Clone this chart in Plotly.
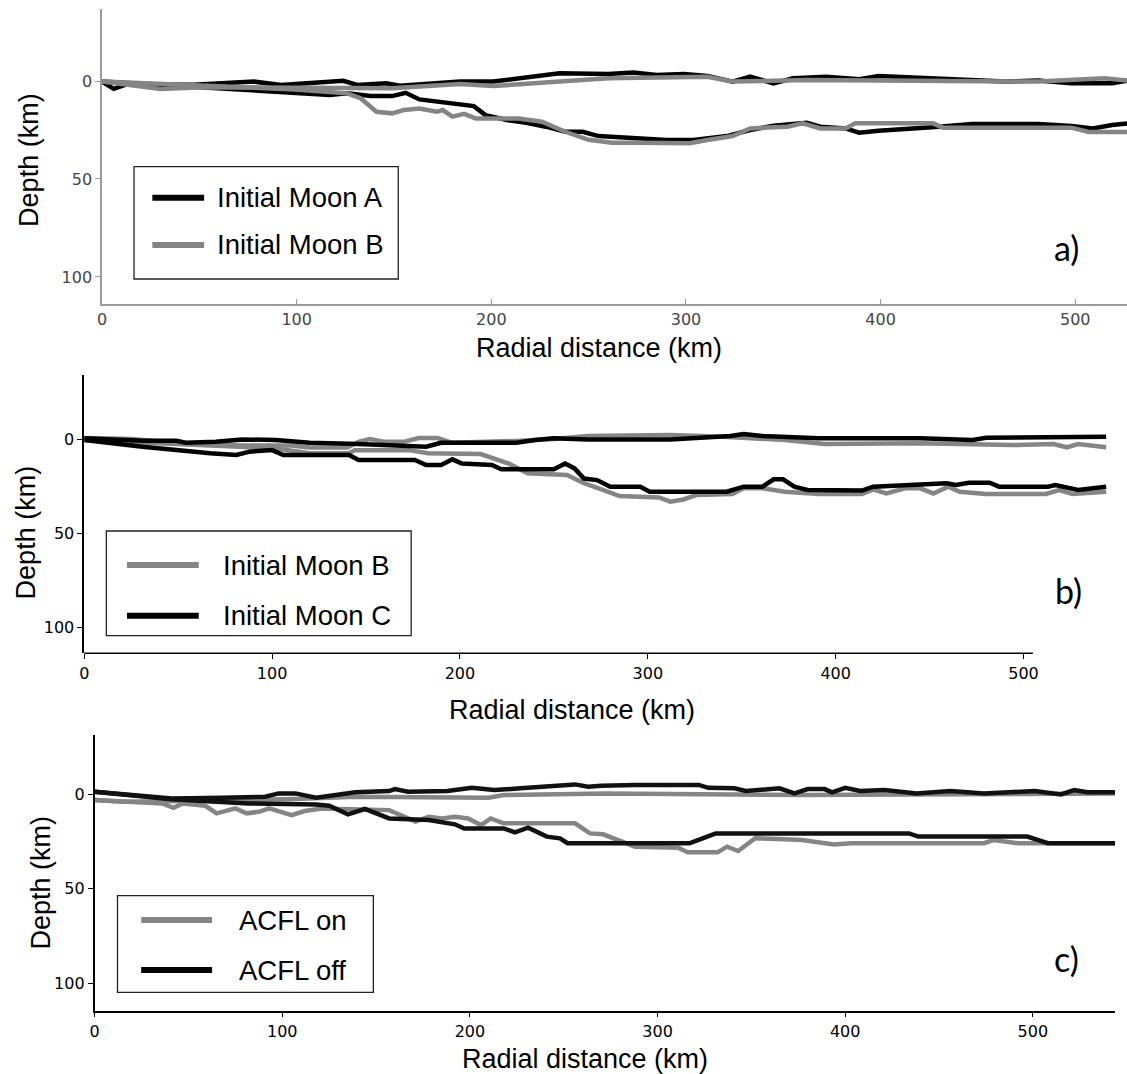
import plotly.graph_objects as go

W, H = 1127, 1074

# ---------------- data (depth in km vs radial distance in km) ----------------
# Panel a
a_moonA_upper_x = [0, 6, 13, 47, 78, 92, 124, 131, 146, 153, 184, 201, 235, 260, 273, 285, 299, 311, 324, 333, 345, 355, 372, 389, 399, 423, 447, 464, 481, 498, 519, 527]
a_moonA_upper_d = [0.3, 4, 1.6, 1.9, 0.3, 2, -0.1, 2, 1.2, 2.4, 0.3, 0.3, -3.9, -3.6, -4.3, -3.1, -3.6, -2.6, 0.3, -2.2, 1.2, -1.4, -2.2, -0.9, -2.6, -1.4, -0.2, 0.3, -0.2, 1.2, 1.2, -0.2]
a_moonA_lower_x = [0, 47, 96, 117, 126, 138, 149, 156, 163, 174, 180, 191, 197, 208, 218, 228, 238, 247, 255, 262, 270, 277, 290, 304, 321, 333, 345, 362, 369, 382, 389, 399, 413, 430, 447, 481, 498, 509, 519, 527]
a_moonA_lower_d = [0.3, 3, 5.6, 7.1, 6.3, 7.7, 7.7, 6, 9.4, 10.6, 11.8, 12.8, 17.4, 19.9, 21.3, 23.3, 25.9, 25.9, 28.1, 28.5, 28.8, 29.3, 30.1, 30.1, 28.1, 25, 22.8, 21.3, 23.3, 24.2, 26.4, 25.4, 24.2, 23.3, 22, 22, 23, 24.2, 22.5, 21.6]
a_moonB_upper_x = [0, 30, 52, 98, 149, 184, 201, 235, 260, 311, 324, 362, 430, 481, 515, 527]
a_moonB_upper_d = [0.3, 4.1, 3.2, 3.7, 3.7, 1.5, 2.6, 0.3, -1.4, -2.2, 0.3, -0.5, -0.2, 0.3, -1.4, -0.2]
a_moonB_lower_x = [0, 99, 126, 133, 141, 149, 155, 163, 172, 175, 180, 186, 192, 214, 226, 238, 250, 262, 273, 302, 311, 324, 333, 352, 360, 369, 382, 387, 427, 432, 498, 507, 527]
a_moonB_lower_d = [0.3, 4.3, 6.3, 8.9, 15.7, 16.5, 14.8, 14, 15.7, 14.8, 18.2, 16.8, 19.1, 19.1, 20.8, 25.9, 30, 31.5, 31.5, 31.8, 30.1, 28.1, 24.2, 23.3, 21.6, 24.2, 24.2, 21.6, 21.6, 23.8, 23.8, 26, 26]

# Panel b
b_moonB_upper_x = [0, 25, 50, 85, 110, 120, 140, 146, 152, 160, 170, 178, 188, 196, 230, 250, 268, 312, 340, 373, 394, 445, 494, 516, 523, 529, 544]
b_moonB_upper_d = [-0.5, 0, 2, 3.5, 3.5, 4.5, 4.5, 1.5, 0, 1.5, 1.5, -0.5, -0.5, 2, 1, 0, -1.6, -2.1, -1.2, 0.5, 2.7, 2.3, 3.2, 2.7, 4.4, 2.7, 4.4]
b_moonB_lower_x = [0, 49, 84, 102, 120, 141, 144, 173, 183, 211, 226, 236, 257, 266, 272, 278, 285, 306, 312, 319, 326, 345, 351, 361, 373, 391, 414, 420, 427, 437, 445, 452, 460, 466, 480, 512, 519, 526, 544]
b_moonB_lower_d = [0.5, 2.7, 4.1, 5, 7.6, 7.6, 5.9, 5.9, 7.6, 8, 13, 18.2, 19.1, 23.5, 25.5, 28, 30.3, 31, 33.3, 32.1, 29.7, 29.2, 26.2, 26.2, 28, 29.2, 29.2, 26.7, 28.9, 26.2, 26.2, 28.9, 25.3, 28, 29.2, 29.2, 27.1, 29.2, 28]
b_moonC_upper_x = [0, 31, 49, 54, 70, 84, 102, 120, 146, 160, 176, 182, 190, 230, 240, 250, 268, 312, 344, 351, 361, 391, 445, 473, 480, 544]
b_moonC_upper_d = [-0.4, 0.9, 0.9, 2, 1.4, 0.2, 0.5, 2, 2.7, 3.2, 4.1, 4.1, 2, 2, 0.5, -0.35, 0.2, 0.2, -1.6, -2.7, -1.6, -0.35, -0.35, 0.5, -0.7, -1.2]
b_moonC_lower_x = [0, 31, 67, 81, 88, 100, 106, 141, 146, 176, 182, 190, 196, 201, 217, 222, 250, 256, 261, 266, 273, 280, 296, 301, 342, 351, 361, 367, 372, 378, 385, 414, 420, 459, 464, 471, 482, 487, 513, 517, 529, 544]
b_moonC_lower_d = [0.5, 4.1, 7.6, 8.5, 6.7, 5.9, 8.5, 8.5, 11.1, 11.1, 13.8, 13.8, 10.8, 13, 13.8, 16.1, 16.1, 13, 15.6, 21, 21.8, 25.3, 25.3, 28, 28, 25.3, 25.3, 21.4, 21.4, 25.3, 27.1, 27.4, 25.3, 23.5, 24.4, 23.2, 23.2, 25.3, 25.3, 24.4, 27.1, 25.3]

# Panel c
c_on_upper_x = [0, 15, 50, 103, 139, 210, 218, 273, 377, 544]
c_on_upper_d = [3.2, 4.1, 3.7, 2.7, 1.4, 2, 0.5, -0.35, 0.5, -0.35]
c_on_lower_x = [0, 36, 42, 47, 59, 65, 75, 81, 88, 93, 105, 112, 121, 157, 171, 178, 185, 192, 199, 206, 211, 218, 256, 264, 271, 288, 311, 316, 332, 337, 343, 352, 364, 377, 394, 403, 474, 479, 492, 544]
c_on_lower_d = [3.2, 5, 7.3, 5, 6.2, 10.2, 7.6, 10.2, 9.3, 7.6, 11.1, 9, 7.6, 8.5, 14.6, 12, 12.9, 12, 12.9, 16.4, 12.9, 15.5, 15.5, 20.8, 21.3, 27.8, 28.4, 30.8, 30.8, 27.8, 30.1, 23.4, 23.8, 24.3, 26.6, 26, 26, 24.3, 26, 26]
c_off_upper_x = [0, 41, 68, 91, 98, 107, 118, 139, 157, 160, 167, 188, 201, 213, 227, 238, 256, 263, 270, 288, 322, 327, 341, 347, 365, 373, 380, 389, 393, 400, 408, 421, 438, 456, 474, 501, 515, 522, 529, 544]
c_off_upper_d = [-1.2, 2.3, 2, 1.4, -0.35, -0.35, 2, -0.9, -1.6, -2.6, -1.2, -1.6, -3.3, -2.1, -3, -3.9, -5.1, -3.9, -4.4, -4.8, -4.8, -3.3, -3, -1.6, -3, -0.35, -2.6, -2.6, -0.9, -3.3, -1.6, -2.1, -0.35, -1.6, -0.35, -1.6, 0.2, -2.1, -0.9, -0.9]
c_off_lower_x = [0, 41, 82, 118, 125, 135, 144, 157, 178, 192, 197, 218, 224, 231, 241, 248, 252, 317, 324, 331, 434, 439, 497, 508, 544]
c_off_lower_d = [-1.2, 2.7, 5, 5.5, 6.2, 10.7, 7.9, 12.9, 13.7, 16, 18.2, 18.2, 20.2, 17.8, 22.5, 23.4, 26, 26, 23.4, 20.8, 20.8, 22.5, 22.5, 26, 26]

x_ticks = [0, 100, 200, 300, 400, 500]
y_ticks = [0, 50, 100]

legend_a = ["Initial Moon A", "Initial Moon B"]
legend_b = ["Initial Moon B", "Initial Moon C"]
legend_c = ["ACFL on", "ACFL off"]
panel_labels = ["a)", "b)", "c)"]

# ---------------- styling ----------------
GRAY = "#858585"
BLACK = "#000000"
BLACK_C = "#111111"
LW = 4.5
TXT_FONT = "Liberation Sans, Arial, sans-serif"
TICK_FONT = "DejaVu Sans, sans-serif"


def pxx(x):
    return x / W


def pyy(y):
    return 1 - y / H


fig = go.Figure()


def add_line(x, d, color, xa, ya):
    fig.add_trace(go.Scatter(x=x, y=d, mode="lines",
                             line=dict(color=color, width=LW),
                             xaxis=xa, yaxis=ya, showlegend=False,
                             hoverinfo="skip"))


# panel a (black drawn first, gray on top)
add_line(a_moonA_upper_x, a_moonA_upper_d, BLACK, "x", "y")
add_line(a_moonA_lower_x, a_moonA_lower_d, BLACK, "x", "y")
add_line(a_moonB_upper_x, a_moonB_upper_d, GRAY, "x", "y")
add_line(a_moonB_lower_x, a_moonB_lower_d, GRAY, "x", "y")
# panel b
add_line(b_moonB_upper_x, b_moonB_upper_d, GRAY, "x2", "y2")
add_line(b_moonB_lower_x, b_moonB_lower_d, GRAY, "x2", "y2")
add_line(b_moonC_upper_x, b_moonC_upper_d, BLACK, "x2", "y2")
add_line(b_moonC_lower_x, b_moonC_lower_d, BLACK, "x2", "y2")
# panel c
add_line(c_on_upper_x, c_on_upper_d, GRAY, "x3", "y3")
add_line(c_on_lower_x, c_on_lower_d, GRAY, "x3", "y3")
add_line(c_off_upper_x, c_off_upper_d, BLACK_C, "x3", "y3")
add_line(c_off_lower_x, c_off_lower_d, BLACK_C, "x3", "y3")


def xaxis_cfg(dom, rng, anchor, color, labelcolor, ticks, showline=True):
    return dict(domain=dom, range=rng, anchor=anchor, showline=showline,
                linecolor=color, linewidth=1.5, ticks=ticks, ticklen=5,
                tickwidth=1, tickcolor=color, tickmode="array",
                tickvals=x_ticks, showgrid=False, zeroline=False,
                tickfont=dict(family=TICK_FONT, size=16, color=labelcolor))


def yaxis_cfg(dom, rng, anchor, color, labelcolor):
    return dict(domain=dom, range=rng, anchor=anchor, showline=True,
                linecolor=color, linewidth=1.5, ticks="outside", ticklen=5,
                tickwidth=1, tickcolor=color, tickmode="array",
                tickvals=y_ticks, showgrid=False, zeroline=False,
                tickfont=dict(family=TICK_FONT, size=16, color=labelcolor))


fig.update_layout(
    width=W, height=H, autosize=False,
    margin=dict(l=0, r=0, t=0, b=0),
    paper_bgcolor="white", plot_bgcolor="white",
    showlegend=False,
    xaxis=xaxis_cfg([pxx(97.5), 1.0], [0, 526.6], "y", "#9a9a9a", "#444444", "inside"),
    yaxis=yaxis_cfg([pyy(304), pyy(9.3)], [113.8, -36.6], "x", "#9a9a9a", "#444444"),
    xaxis2=xaxis_cfg([pxx(79.6), pxx(1107)], [0, 544.5], "y2", "#000000", "#000000", "outside", showline=False),
    yaxis2=yaxis_cfg([pyy(653.3), pyy(375)], [113.8, -34], "x2", "#000000", "#000000"),
    xaxis3=xaxis_cfg([pxx(90), pxx(1115)], [0, 543.8], "y3", "#000000", "#000000", "outside"),
    yaxis3=yaxis_cfg([pyy(1010.7), pyy(735)], [114.5, -31.2], "x3", "#000000", "#000000"),
)

shapes = []
annotations = []

# panel b x-axis line stops at ~505 km
shapes.append(dict(type="line", xref="x2", yref="y2 domain", x0=0, x1=505, y0=0, y1=0,
                   line=dict(color="#000000", width=1.5)))

# axis titles
titles = [
    ("Depth (km)", 24, 160, -90), ("Radial distance (km)", 597, 348, 0),
    ("Depth (km)", 21.5, 532, -90), ("Radial distance (km)", 570, 710, 0),
    ("Depth (km)", 35.7, 883, -90), ("Radial distance (km)", 583, 1059, 0),
]
for t, x, y, ang in titles:
    annotations.append(dict(text=t, x=pxx(x), y=pyy(y), xref="paper", yref="paper",
                            xanchor="center", yanchor="middle", textangle=ang,
                            showarrow=False, font=dict(family=TXT_FONT, size=27, color="black")))

# panel labels
for lab, x, y in zip(panel_labels, [1066, 1068, 1066], [248, 590, 958]):
    annotations.append(dict(text=lab, x=pxx(x), y=pyy(y), xref="paper", yref="paper",
                            xanchor="center", yanchor="middle", showarrow=False,
                            font=dict(family="Lato, Open Sans, sans-serif", size=34, color="black")))


def add_legend(box, entries, lx0, lx1, tx, border="#222222"):
    x0, y0, x1, y1 = box
    shapes.append(dict(type="rect", xref="paper", yref="paper",
                       x0=pxx(x0), x1=pxx(x1), y0=pyy(y1), y1=pyy(y0),
                       line=dict(color=border, width=1.3), fillcolor="white", layer="above"))
    for label, color, y in entries:
        shapes.append(dict(type="line", xref="paper", yref="paper",
                           x0=pxx(lx0), x1=pxx(lx1), y0=pyy(y), y1=pyy(y),
                           line=dict(color=color, width=6), layer="above"))
        annotations.append(dict(text=label, x=pxx(tx), y=pyy(y), xref="paper", yref="paper",
                                xanchor="left", yanchor="middle", showarrow=False,
                                font=dict(family=TXT_FONT, size=27.5, color="black")))


add_legend((129.6, 166.7, 395, 279), [(legend_a[0], BLACK, 197.7), (legend_a[1], GRAY, 245)], 148, 200, 211)
add_legend((101.8, 531, 408, 635.7), [(legend_b[0], GRAY, 565), (legend_b[1], BLACK, 615.7)], 122.5, 194.6, 217)
add_legend((113, 895.7, 370, 992.3), [(legend_c[0], GRAY, 920), (legend_c[1], BLACK, 970)], 136.8, 208, 233)

fig.update_layout(shapes=shapes, annotations=annotations)

fig.write_html("out.html")
